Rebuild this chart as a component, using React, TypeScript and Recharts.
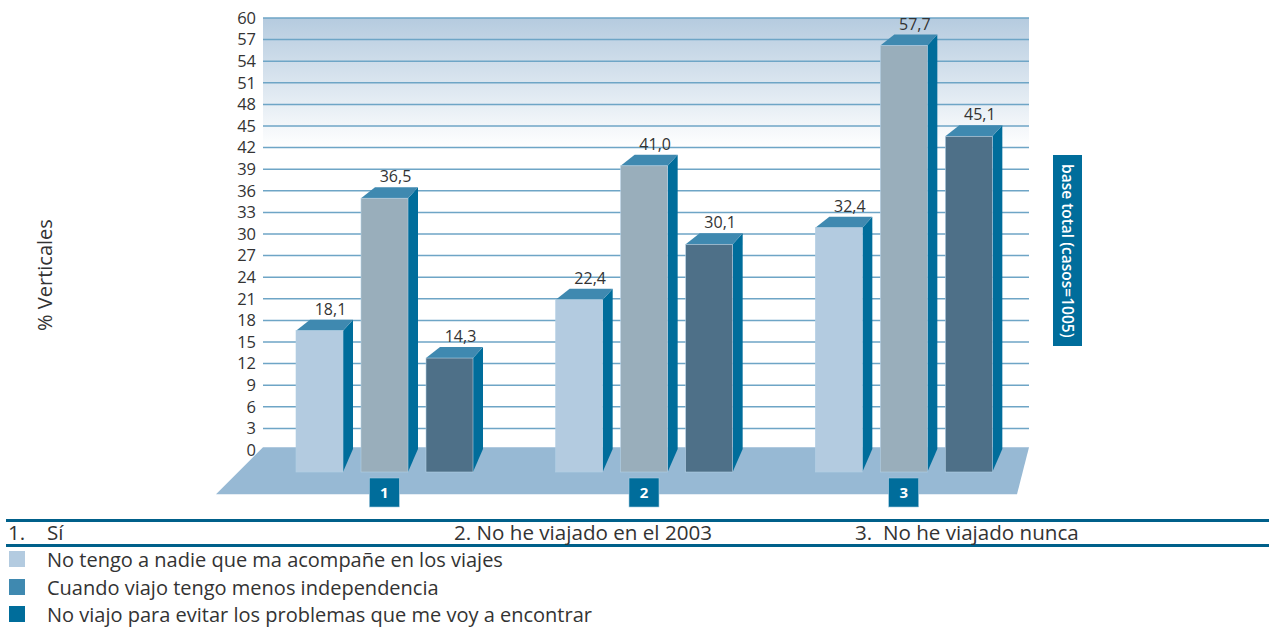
import { Bar, BarChart, CartesianGrid, LabelList, ReferenceArea, XAxis, YAxis } from "recharts";

const FONT = '"Open Sans", sans-serif';

// Values as printed above the bars
const categories = ["1", "2", "3"];
const sinCompania = [18.1, 22.4, 32.4];
const independencia = [36.5, 41.0, 57.7];
const problemas = [14.3, 30.1, 45.1];
const yTicks = [0, 3, 6, 9, 12, 15, 18, 21, 24, 27, 30, 33, 36, 39, 42, 45, 48, 51, 54, 57, 60];

const data = categories.map((name, i) => ({
  name,
  sinCompania: sinCompania[i],
  independencia: independencia[i],
  problemas: problemas[i],
}));

const answers = [
  { text: "1.", x: 8 },
  { text: "Sí", x: 47 },
  { text: "2. No he viajado en el 2003", x: 454 },
  { text: "3.  No he viajado nunca", x: 855 },
];

const legendItems = [
  { text: "No tengo a nadie que ma acompañe en los viajes", color: "#b3cbe0", y: 551 },
  { text: "Cuando viajo tengo menos independencia", color: "#3f89b0", y: 579 },
  { text: "No viajo para evitar los problemas que me voy a encontrar", color: "#006d9b", y: 606 },
];

const formatValue = (v: any) => Number(v).toFixed(1).replace(".", ",");

// 3D look: recharts gives the back top edge, the front face hangs below it on the floor
const Bar3D = ({ x, y, width, height, front }: any) => {
  const base = y + height;
  const right = x + width;
  return (
    <g>
      <polygon points={`${right},${y + 11} ${right + 10},${y} ${right + 10},${base - 1} ${right},${base + 22}`} fill="#006d9b" />
      <polygon points={`${x},${y + 11} ${x + 14},${y} ${right + 10},${y} ${right},${y + 11}`} fill="#3f89b0" />
      <rect x={x} y={y + 11} width={width} height={height + 11} fill={front} stroke="#b3d0e4" strokeWidth={0.6} />
    </g>
  );
};

// the x scale runs past the wall because of the negative padding, so pull back to 263..1029
const Floor = ({ x, y, width }: any) => (
  <polygon
    points={`${x + 8},${y - 2} ${x + width - 5},${y - 2} ${x + width - 17},${y + 45} ${x - 39},${y + 45}`}
    fill="#97b9d4"
  />
);

const BadgeTick = ({ x, payload }: any) => (
  <g>
    <rect x={x - 15.5} y={478} width={30} height={29} fill="#006d9b" stroke="#a9cbe0" strokeWidth={0.6} />
    <text x={x - 0.5} y={498} textAnchor="middle" fill="#ffffff" fontSize={15} fontWeight={700} fontFamily={FONT}>
      {payload.value}
    </text>
  </g>
);

const renderBar = (front: string) => (props: any) => <Bar3D {...props} front={front} />;

const labelStyle = { position: "top", offset: 5, dx: 11, fill: "#333", fontSize: 16, fontFamily: FONT } as any;

export default function App() {
  return (
    <div style={{ position: "absolute", left: 0, top: 0, width: 1269, height: 628, overflow: "hidden", fontFamily: FONT, color: "#333" }}>
      <BarChart
        width={1269}
        height={628}
        data={data}
        barSize={47}
        barGap={18}
        margin={{ top: 18, right: 240, bottom: 128, left: 0 }}
      >
        <defs>
          <linearGradient id="wallFade" x1="0" y1="0" x2="0" y2="1">
            <stop offset="0%" stopColor="#b5cbdf" />
            <stop offset="30%" stopColor="#ffffff" />
          </linearGradient>
        </defs>
        <CartesianGrid
          horizontal
          vertical={false}
          stroke="#6ea5c6"
          strokeWidth={1.5}
          fill="url(#wallFade)"
          fillOpacity={1}
          horizontalValues={yTicks.slice(1)}
        />
        <ReferenceArea y1={0} y2={0.1} ifOverflow="visible" shape={<Floor />} />
        <XAxis
          dataKey="name"
          axisLine={false}
          tickLine={false}
          height={50}
          padding={{ left: -8, right: -5 }}
          tick={<BadgeTick />}
        />
        <YAxis
          width={263}
          domain={[0, 60]}
          ticks={yTicks}
          interval={0}
          axisLine={false}
          tickLine={false}
          tickMargin={0}
          tick={{ fill: "#333", fontSize: 16.5, fontFamily: FONT, dx: -1 }}
        />
        <Bar dataKey="sinCompania" isAnimationActive={false} shape={renderBar("#b3cbe0")}>
          <LabelList dataKey="sinCompania" formatter={formatValue} {...labelStyle} />
        </Bar>
        <Bar dataKey="independencia" isAnimationActive={false} shape={renderBar("#99aebb")}>
          <LabelList dataKey="independencia" formatter={formatValue} {...labelStyle} />
        </Bar>
        <Bar dataKey="problemas" isAnimationActive={false} shape={renderBar("#4e7088")}>
          <LabelList dataKey="problemas" formatter={formatValue} {...labelStyle} />
        </Bar>
      </BarChart>

      <div style={{ position: "absolute", left: 44, top: 275, transform: "translate(-50%, -50%) rotate(-90deg)", fontSize: 20, whiteSpace: "nowrap" }}>
        % Verticales
      </div>

      <div
        style={{
          position: "absolute",
          left: 1053,
          top: 155,
          width: 29,
          height: 191,
          background: "#006d9b",
          color: "#fff",
          writingMode: "vertical-rl",
          fontSize: 15.5,
          fontWeight: 600,
          lineHeight: "29px",
          textAlign: "center",
          whiteSpace: "nowrap",
        }}
      >
        base total (casos=1005)
      </div>

      <div style={{ position: "absolute", left: 6, right: 0, top: 519, height: 3, background: "#00608a" }} />
      <div style={{ position: "absolute", left: 6, right: 0, top: 544, height: 3, background: "#00608a" }} />

      {answers.map((a) => (
        <div key={a.text} style={{ position: "absolute", left: a.x, top: 520, fontSize: 20.6, lineHeight: "25px", whiteSpace: "pre" }}>
          {a.text}
        </div>
      ))}

      {legendItems.map((item) => (
        <div key={item.text}>
          <div style={{ position: "absolute", left: 9, top: item.y, width: 16, height: 16, background: item.color }} />
          <div style={{ position: "absolute", left: 47, top: item.y - 4, fontSize: 20, lineHeight: "25px", whiteSpace: "nowrap" }}>
            {item.text}
          </div>
        </div>
      ))}
    </div>
  );
}
